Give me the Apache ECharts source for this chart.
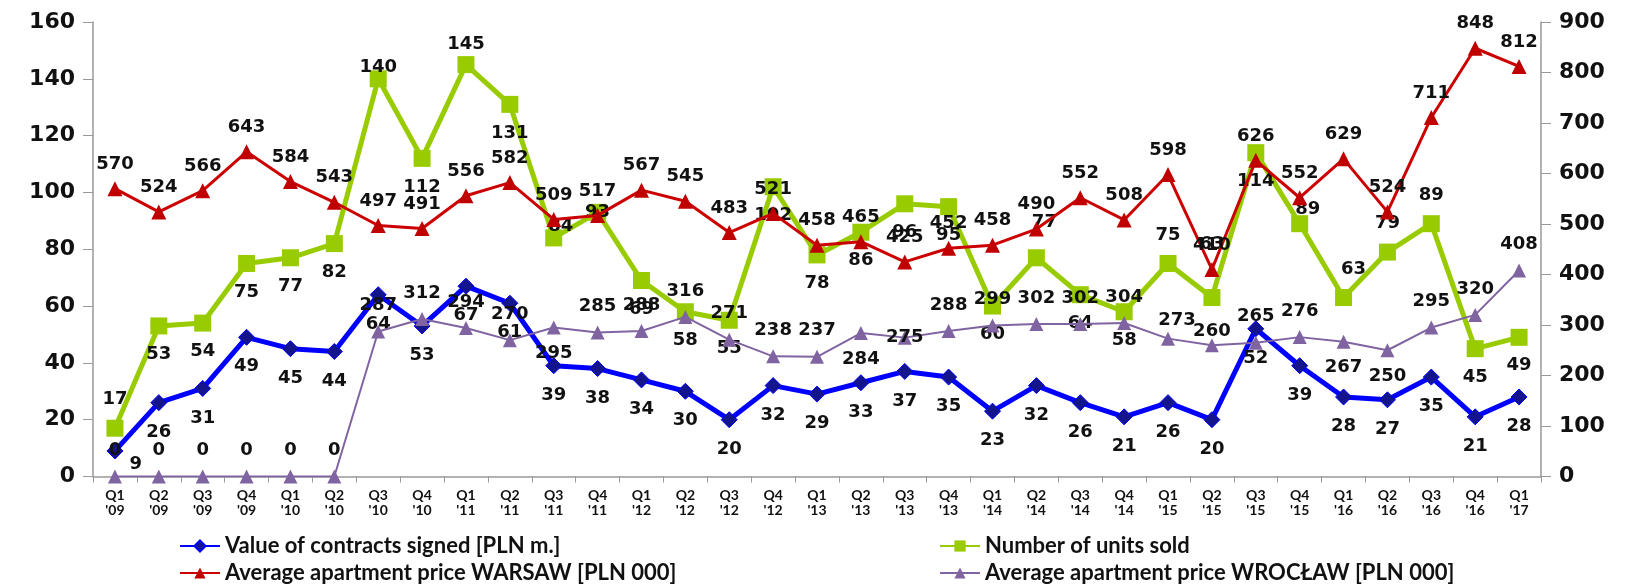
<!DOCTYPE html>
<html>
<head>
<meta charset="utf-8">
<script src="https://cdn.jsdelivr.net/npm/echarts@6/dist/echarts.min.js"></script>
<style>
html,body{margin:0;padding:0;background:#fff;}
#chart{width:1632px;height:584px;}
</style>
</head>
<body>
<div id="chart"></div>
<script>
const categories = ["Q1\n'09","Q2\n'09","Q3\n'09","Q4\n'09","Q1\n'10","Q2\n'10","Q3\n'10","Q4\n'10","Q1\n'11","Q2\n'11","Q3\n'11","Q4\n'11","Q1\n'12","Q2\n'12","Q3\n'12","Q4\n'12","Q1\n'13","Q2\n'13","Q3\n'13","Q4\n'13","Q1\n'14","Q2\n'14","Q3\n'14","Q4\n'14","Q1\n'15","Q2\n'15","Q3\n'15","Q4\n'15","Q1\n'16","Q2\n'16","Q3\n'16","Q4\n'16","Q1\n'17"];
const contractsValue = [9,26,31,49,45,44,64,53,67,61,39,38,34,30,20,32,29,33,37,35,23,32,26,21,26,20,52,39,28,27,35,21,28];
const unitsSold = [17,53,54,75,77,82,140,112,145,131,84,93,69,58,55,102,78,86,96,95,60,77,64,58,75,63,114,89,63,79,89,45,49];
const priceWarsaw = [570,524,566,643,584,543,497,491,556,582,509,517,567,545,483,521,458,465,425,452,458,490,552,508,598,410,626,552,629,524,711,848,812];
const priceWroclaw = [0,0,0,0,0,0,287,312,294,270,295,285,288,316,271,238,237,284,275,288,299,302,302,304,273,260,265,276,267,250,295,320,408];
const leftTicks = [0,20,40,60,80,100,120,140,160];
const rightTicks = [0,100,200,300,400,500,600,700,800,900];

const seriesNames = ["Value of contracts signed [PLN m.]","Number of units sold","Average apartment price WARSAW [PLN 000]","Average apartment price WROCŁAW [PLN 000]"];

// label placement (styling only): T = above, B = below, C = centred on the point
const unitsLabelPos = ['T','B','B','B','B','B','T','B','T','B','C','C','B','B','B','B','B','B','B','B','B','T','B','B','T','T','B','T','T','T','T','B','B'];
const wroclawLabelPos = ['T','T','T','T','T','T','T','T','T','T','B','T','T','T','T','T','T','B','C','T','T','T','T','T','T','T','T','T','B','B','T','T','T'];
// a few hand-adjusted label nudges (styling only), keyed by category index
const unitsLabelTweak = {6:{distance:-6}, 8:{distance:3}, 10:{offset:[7,-12]}, 21:{distance:18, offset:[8,0]}, 25:{distance:36}, 27:{distance:-3, offset:[8,0]}, 28:{offset:[10,0]}};
const wroclawLabelTweak = {24:{distance:2, offset:[9,0]}, 25:{distance:-2}};

const labelFont = {fontFamily:'DejaVu Sans', fontWeight:'bold', fontSize:18, color:'#111'};
const posMap = {T:'top', B:'bottom', C:'inside'};

function withPos(vals, posArr, dist, tweaks){
  return vals.map((v,i)=>{
    const p = posArr[i];
    const lab = {position:posMap[p], distance: p==='C'?0:dist};
    if (tweaks && tweaks[i]) Object.assign(lab, tweaks[i]);
    return {value:v, label:lab};
  });
}

const legendText = {fontFamily:'Lato', fontWeight:'bold', fontSize:22, color:'#111'};
function legendFor(name, left, top){
  return {data:[name], orient:'horizontal', left:left, top:top, itemWidth:40, itemHeight:14, padding:0,
          textStyle:legendText};
}

const chart = echarts.init(document.getElementById('chart'));
chart.setOption({
  animation:false,
  backgroundColor:'#fff',
  grid:{left:93, right:91, top:22, bottom:107.5, containLabel:false},
  legend:[
    legendFor(seriesNames[0], 179, 535),
    legendFor(seriesNames[1], 939, 535),
    legendFor(seriesNames[2], 179, 562),
    legendFor(seriesNames[3], 939, 562)
  ],
  xAxis:{
    type:'category', data:categories, boundaryGap:true,
    axisLine:{lineStyle:{color:'#999', width:1.5}},
    axisTick:{show:true, length:6, lineStyle:{color:'#999'}},
    axisLabel:{interval:0, margin:11, fontFamily:'Lato', fontWeight:'bold', fontSize:14, lineHeight:15, color:'#111'}
  },
  yAxis:[
    {type:'value', min:leftTicks[0], max:leftTicks[leftTicks.length-1], interval:20,
     splitLine:{show:false},
     axisLine:{show:true, lineStyle:{color:'#999', width:1.5}},
     axisTick:{show:true, length:10, lineStyle:{color:'#999'}},
     axisLabel:{margin:18, fontFamily:'DejaVu Sans', fontWeight:'bold', fontSize:22, color:'#111'}},
    {type:'value', min:rightTicks[0], max:rightTicks[rightTicks.length-1], interval:100,
     splitLine:{show:false},
     axisLine:{show:true, lineStyle:{color:'#999', width:1.5}},
     axisTick:{show:true, length:10, lineStyle:{color:'#999'}},
     axisLabel:{margin:18, fontFamily:'DejaVu Sans', fontWeight:'bold', fontSize:22, color:'#111'}}
  ],
  series:[
    {name:seriesNames[0], type:'line', yAxisIndex:0, z:4,
     data:contractsValue.map((v,i)=> i===0 ? {value:v, label:{position:'right', distance:6, offset:[0,13]}} : v),
     symbol:'diamond', symbolSize:16,
     lineStyle:{color:'#0000FF', width:5},
     itemStyle:{color:'#14148C', borderColor:'#0000FF', borderWidth:1},
     label:{show:true, position:'bottom', distance:12, ...labelFont}},
    {name:seriesNames[1], type:'line', yAxisIndex:0, z:2,
     data:withPos(unitsSold, unitsLabelPos, 11, unitsLabelTweak),
     symbol:'rect', symbolSize:17,
     lineStyle:{color:'#99CC00', width:5},
     itemStyle:{color:'#99CC00'},
     label:{show:true, ...labelFont}},
    {name:seriesNames[2], type:'line', yAxisIndex:1, z:3,
     data:priceWarsaw,
     symbol:'triangle', symbolSize:15,
     lineStyle:{color:'#CC0000', width:3},
     itemStyle:{color:'#C00000'},
     label:{show:true, position:'top', distance:8, ...labelFont}},
    {name:seriesNames[3], type:'line', yAxisIndex:1, z:5,
     data:withPos(priceWroclaw, wroclawLabelPos, 10, wroclawLabelTweak),
     symbol:'triangle', symbolSize:14,
     lineStyle:{color:'#8064A2', width:2},
     itemStyle:{color:'#8064A2'},
     label:{show:true, ...labelFont}}
  ]
});
</script>
</body>
</html>
